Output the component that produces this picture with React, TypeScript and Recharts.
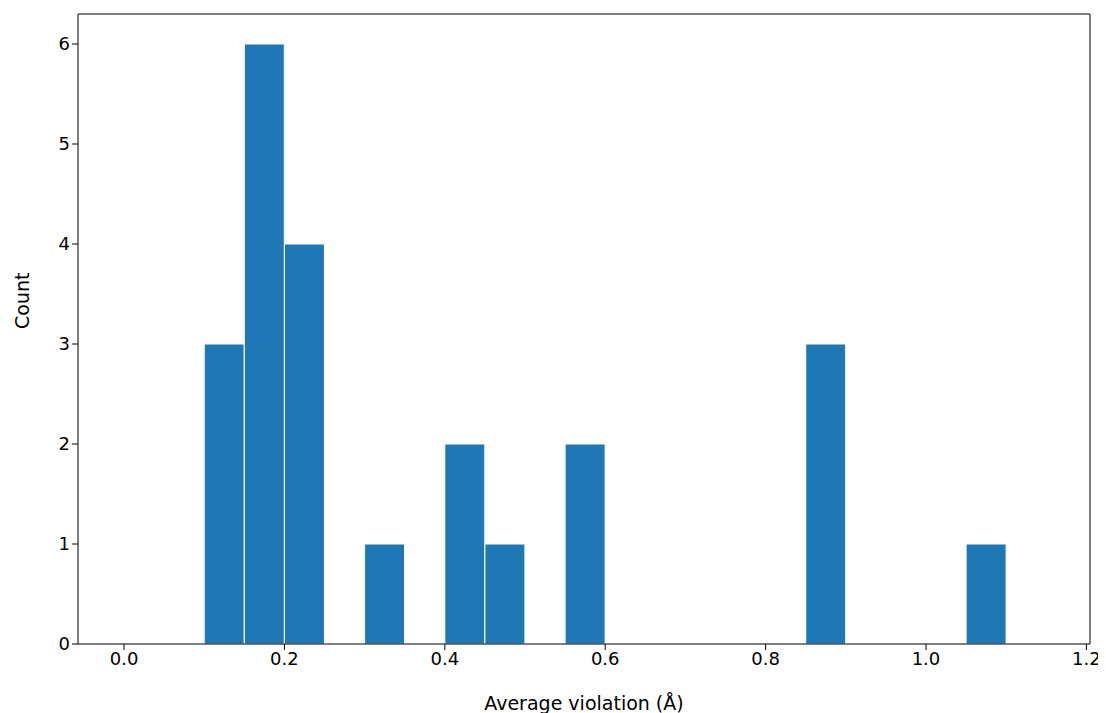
import React from 'react'
import { BarChart, Bar, XAxis, YAxis } from 'recharts'

// histogram bins (left edges step 0.05) -> bin centres
const binCenters = [
  0.125, 0.175, 0.225, 0.275, 0.325, 0.375, 0.425, 0.475, 0.525, 0.575,
  0.625, 0.675, 0.725, 0.775, 0.825, 0.875, 0.925, 0.975, 1.025, 1.075,
]
const counts = [3, 6, 4, 0, 1, 0, 2, 1, 0, 2, 0, 0, 0, 0, 0, 3, 0, 0, 0, 1]
const xTicks = [0, 0.2, 0.4, 0.6, 0.8, 1.0, 1.2]
const yTicks = [0, 1, 2, 3, 4, 5, 6]

const data = binCenters.map((x, i) => ({ x, count: counts[i] }))

const font = 'DejaVu Sans, sans-serif'
const tickStyle = { fontSize: 18, fill: '#000', fontFamily: font }

export default function App() {
  return (
    <div style={{ fontFamily: font }}>
      <BarChart
        width={1098}
        height={705}
        data={data}
        barCategoryGap={0}
        margin={{ top: 5, right: 0, left: 0, bottom: 3 }}
      >
        <XAxis
          dataKey="x"
          type="number"
          domain={[-0.0574, 1.2045]}
          ticks={xTicks}
          tickFormatter={(v: number) => v.toFixed(1)}
          tick={tickStyle}
          stroke="#000"
          tickSize={6}
          height={66}
          allowDataOverflow
          label={{ value: 'Average violation (Å)', position: 'insideBottom', offset: 0, fontSize: 19, fill: '#000', fontFamily: font }}
        />
        <XAxis xAxisId="top" orientation="top" dataKey="x" type="number" domain={[-0.0574, 1.2045]} tick={false} tickLine={false} stroke="#000" height={1} />
        <YAxis
          type="number"
          domain={[0, 6.3]}
          ticks={yTicks}
          tick={tickStyle}
          stroke="#000"
          tickSize={6}
          width={70}
          allowDataOverflow
          label={{ value: 'Count', angle: -90, position: 'insideLeft', offset: 14, fontSize: 19, fill: '#000', fontFamily: font }}
        />
        <YAxis yAxisId="right" orientation="right" domain={[0, 6.3]} tick={false} tickLine={false} stroke="#000" width={16} />
        <Bar dataKey="count" fill="#1f77b4" stroke="#fff" strokeWidth={1} isAnimationActive={false} />
      </BarChart>
    </div>
  )
}
